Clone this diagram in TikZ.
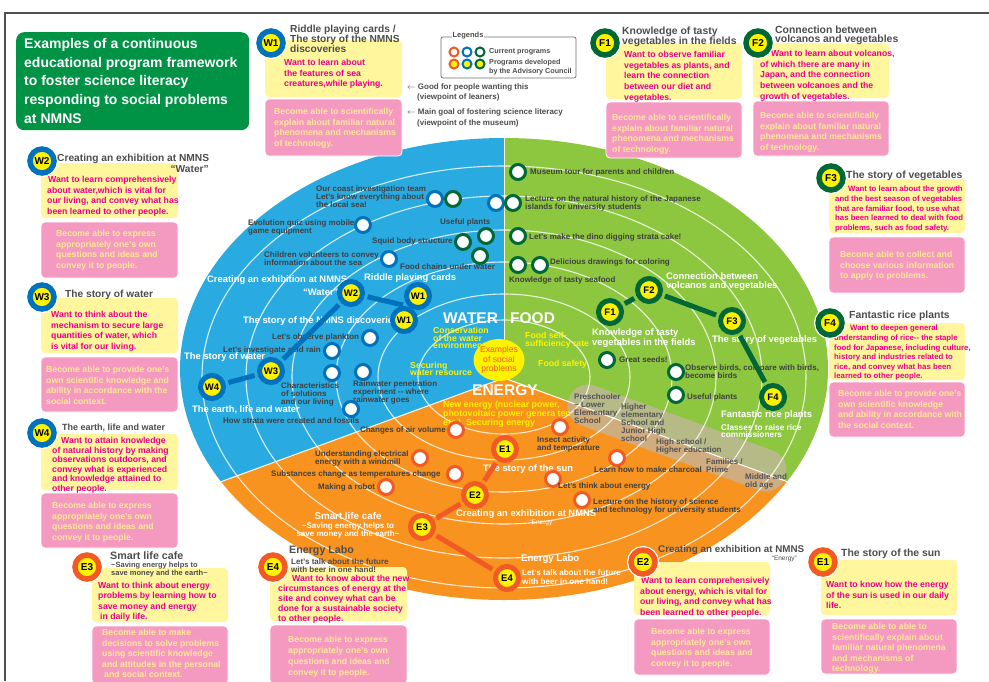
\documentclass[tikz,border=0pt]{standalone}
\usepackage{fontspec}
\usetikzlibrary{shapes.geometric}
\setmainfont{Liberation Sans}
\definecolor{blueR}{RGB}{41,171,226}
\definecolor{greenR}{RGB}{141,198,63}
\definecolor{orangeR}{RGB}{247,147,30}
\definecolor{ringB}{RGB}{0,113,188}
\definecolor{ringG}{RGB}{0,104,55}
\definecolor{ringO}{RGB}{241,90,36}
\definecolor{badgeY}{RGB}{255,242,0}
\definecolor{boxY}{RGB}{255,246,157}
\definecolor{boxP}{RGB}{244,154,193}
\definecolor{txtM}{RGB}{236,0,140}
\definecolor{txtP}{RGB}{255,233,150}
\definecolor{ttlG}{RGB}{77,77,77}
\definecolor{labG}{RGB}{64,64,66}
\definecolor{labY}{RGB}{255,242,0}
\definecolor{titleG}{RGB}{0,146,69}
\definecolor{bandC}{RGB}{196,182,160}
\definecolor{frameC}{RGB}{80,80,80}
\tikzset{
  ybox/.style={fill=boxY, rounded corners=4pt},
  pbox/.style={fill=boxP, draw=white, line width=0.8pt, rounded corners=4pt},
  ytxt/.style={anchor=north west, inner sep=0pt, align=left, text=txtM, font=\fontsize{8.7}{10.7}\selectfont\bfseries},
  ptxt/.style={anchor=north west, inner sep=0pt, align=left, text=txtP, font=\fontsize{8.7}{10.7}\selectfont\bfseries},
  ttl/.style={anchor=north west, inner sep=0pt, align=left, text=ttlG, font=\fontsize{10.2}{9.6}\selectfont\bfseries},
  lab/.style={inner sep=0pt, align=left, text=labG, font=\fontsize{8}{8.2}\selectfont\bfseries},
  wlab/.style={inner sep=0pt, align=left, text=white, font=\fontsize{9.4}{8.6}\selectfont\bfseries},
  ylab/.style={inner sep=0pt, align=left, text=labY, font=\fontsize{8.7}{7.6}\selectfont\bfseries},
  big/.style={inner sep=0pt, text=white, font=\fontsize{15.5}{16}\selectfont\bfseries},
  prog/.style={circle, draw=#1, line width=3pt, fill=white, minimum size=15pt, inner sep=0pt},
  lcirc/.style={circle, draw=#1, line width=2pt, fill=white, minimum size=9pt, inner sep=0pt},
  badge/.style={circle, draw=#1, line width=5pt, fill=badgeY, minimum size=23pt, inner sep=0pt, font=\fontsize{9.5}{10}\selectfont\bfseries},
  bbadge/.style={circle, draw=#1, line width=5.5pt, fill=badgeY, minimum size=24pt, inner sep=0pt, font=\fontsize{10}{10}\selectfont\bfseries, preaction={draw=white, line width=8pt}},
  conn/.style={draw=#1, line width=5pt, shorten <=3pt, shorten >=3pt},
  ringl/.style={draw=white, line width=1.1pt, opacity=0.8},
}
\begin{document}
\begin{tikzpicture}[x=1pt,y=-1pt]
\useasboundingbox (0,0) rectangle (989,681);
\fill[white] (0,0) rectangle (989,681);
\draw[frameC, line width=2pt] (5,681) -- (5,13) -- (989,13);

% ===== big ellipse =====
\begin{scope}
\clip (504,369) ellipse [x radius=324pt, y radius=231pt];
\fill[blueR] (170,120) -- (504,120) -- (504,378) -- (170,500.4) -- cycle;
\fill[greenR] (504,120) -- (840,120) -- (840,501) -- (504,378) -- cycle;
\fill[orangeR] (170,500.4) -- (504,378) -- (840,501) -- (840,620) -- (170,620) -- cycle;
\end{scope}
\fill[bandC, opacity=0.75, rounded corners=20pt, rotate around={-20:(677,438)}] (562,417) rectangle (792,459);
\begin{scope}
\clip (504,369) ellipse [x radius=324pt, y radius=231pt];
\foreach \ra/\rb in {86/57,126/83,168/115,212/147,258/181,302/211}
  \draw[ringl] (504,377) ellipse [x radius=\ra pt, y radius=\rb pt];
\draw[white, line width=1pt] (504,120) -- (504,378);
\draw[white, line width=1pt] (170,500.4) -- (504,378) -- (840,501);
\end{scope}

% ===== title =====
\node[fill=titleG, rounded corners=8pt, minimum width=233pt, minimum height=98pt, anchor=north west, inner sep=0pt] (titlebox) at (16,32) {};
\node[anchor=north west, inner sep=0pt, align=left, text=white, font=\fontsize{14}{18.8}\selectfont\bfseries] (titletext) at (24,38) {Examples of a continuous\\educational program framework\\to foster science literacy\\responding to social problems\\at NMNS};

% ===== legend =====
\draw[ttlG!80, line width=0.8pt, rounded corners=2pt] (441,37) rectangle (576,78);
\node[fill=white, inner sep=1pt, text=ttlG, font=\fontsize{7.5}{8}\selectfont\bfseries] (legt) at (468,36) {Legends};
\node[lcirc=ringO] (lg1) at (454,52) {};
\node[lcirc=ringB] (lg2) at (467,52) {};
\node[lcirc=ringG] (lg3) at (480,52) {};
\node[lcirc=ringO, fill=badgeY] (lg4) at (454,64) {};
\node[lcirc=ringB, fill=badgeY] (lg5) at (467,64) {};
\node[lcirc=ringG, fill=badgeY] (lg6) at (480,64) {};
\node[lab, anchor=west, text=ttlG, font=\fontsize{7.2}{8.8}\selectfont\bfseries] (lgt1) at (489,52) {Current programs};
\node[lab, anchor=north west, text=ttlG, font=\fontsize{7.2}{8.8}\selectfont\bfseries] (lgt2) at (489,59.5) {Programs developed\\by the Advisory Council};
\node[lab, anchor=west, text=ttlG] (ar1) at (407,87) {$\leftarrow$ Good for people wanting this};
\node[lab, anchor=west, text=ttlG] (ar2) at (417,97.5) {(viewpoint of leaners)};
\node[lab, anchor=west, text=ttlG] (ar3) at (407,112) {$\leftarrow$ Main goal of fostering science literacy};
\node[lab, anchor=west, text=ttlG] (ar4) at (417,123) {(viewpoint of the museum)};

% ===== program boxes =====
% W1
\path[ybox] (265,40) rectangle (402,97);
\path[pbox] (265,99) rectangle (402,156);
\node[ytxt] (w1y) at (284,59) {Want to learn about\\the features of sea\\creatures,while playing.};
\node[ptxt] (w1p) at (274,108) {Become able to scientifically\\explain about familiar natural\\phenomena and mechanisms\\of technology.};
\node[bbadge=ringB] (bw1) at (271,43) {W1};
\node[ttl] (tw1) at (290,25.3) {Riddle playing cards /\\The story of the NMNS\\discoveries};
% F1
\path[ybox] (606,43) rectangle (742,99);
\path[pbox] (606,102) rectangle (742,158);
\node[ytxt] (f1y) at (624,51) {Want to observe familiar\\vegetables as plants, and\\learn the connection\\between our diet and\\vegetables.};
\node[ptxt] (f1p) at (612,114) {Become able to scientifically\\explain about familiar natural\\phenomena and mechanisms\\of technology.};
\node[bbadge=ringG] (bf1) at (605,43) {F1};
\node[ttl, font=\fontsize{10.4}{10}\selectfont\bfseries] (tf1) at (622,27) {Knowledge of tasty\\vegetables in the fields};
% F2
\path[ybox] (753,43) rectangle (889,98);
\path[pbox] (753,101) rectangle (889,156);
\node[ytxt] (f2y) at (760,50) {\hspace*{11pt}Want to learn about volcanos,\\of which there are many in\\Japan, and the connection\\between volcanoes and the\\growth of vegetables.};
\node[ptxt] (f2p) at (760,112) {Become able to scientifically\\explain about familiar natural\\phenomena and mechanisms\\of technology.};
\node[bbadge=ringG] (bf2) at (758,43) {F2};
\node[ttl, font=\fontsize{10.4}{9.2}\selectfont\bfseries] (tf2) at (775,26) {Connection between\\volcanos and vegetables};
% F3
\path[ybox] (829,179) rectangle (965,233);
\path[pbox] (829,237) rectangle (965,293);
\node[ytxt, font=\fontsize{7.8}{9.7}\selectfont\bfseries] (f3y) at (835,186) {\hspace*{13pt}Want to learn about the growth\\and the best season of vegetables\\that are familiar food, to use what\\has been learned to deal with food\\problems, such as food safety.};
\node[ptxt] (f3p) at (840,251) {Become able to collect and\\choose various information\\to apply to problems.};
\node[bbadge=ringG] (bf3) at (831,178) {F3};
\node[ttl, font=\fontsize{10.4}{10}\selectfont\bfseries] (tf3) at (846,170.5) {The story of vegetables};
% F4
\path[ybox] (829,323) rectangle (965,380);
\path[pbox] (829,382) rectangle (965,437);
\node[ytxt, font=\fontsize{7.8}{9.6}\selectfont\bfseries] (f4y) at (834,325) {\hspace*{16pt}Want to deepen general\\understanding of rice{-}{-} the staple\\food for Japanese, including culture,\\history and industries related to\\rice, and convey what has been\\learned to other people.};
\node[ptxt] (f4p) at (838,390) {Become able to provide one's\\own scientific knowledge\\and ability in accordance with\\the social context.};
\node[bbadge=ringG] (bf4) at (830,323) {F4};
\node[ttl, font=\fontsize{10.4}{10}\selectfont\bfseries] (tf4) at (849,310.5) {Fantastic rice plants};
% W2
\path[ybox] (41,163) rectangle (178,218);
\path[pbox] (41,222) rectangle (178,278);
\node[ytxt] (w2y) at (47,176) {\hspace*{1pt}Want to learn comprehensively\\about water,which is vital for\\our living, and convey what has\\been learned to other people.};
\node[ptxt] (w2p) at (56,230) {Become able to express\\appropriately one's own\\questions and ideas and\\convey it to people.};
\node[bbadge=ringB] (bw2) at (42,161) {W2};
\node[ttl] (tw2) at (57,153.5) {Creating an exhibition at NMNS};
\node[ttl, anchor=north east] (tw2b) at (209,165.5) {“Water”};
% W3
\path[ybox] (41,298) rectangle (178,353);
\path[pbox] (41,357) rectangle (178,412);
\node[ytxt] (w3y) at (51,311) {Want to think about the\\mechanism to secure large\\quantities of water, which\\is vital for our living.};
\node[ptxt] (w3p) at (46,366) {Become able to provide one's\\own scientific knowledge and\\ability in accordance with the\\social context.};
\node[bbadge=ringB] (bw3) at (42,297) {W3};
\node[ttl] (tw3) at (65,289.5) {The story of water};
% W4
\path[ybox] (41,434) rectangle (178,490);
\path[pbox] (41,493) rectangle (178,548);
\node[ytxt, font=\fontsize{8.7}{9.6}\selectfont\bfseries] (w4y) at (52,437) {\hspace*{9pt}Want to attain knowledge\\of natural history by making\\observations outdoors, and\\convey what is experienced\\and knowledge attained to\\other people.};
\node[ptxt, font=\fontsize{8.7}{10.6}\selectfont\bfseries] (w4p) at (52,502) {Become able to express\\appropriately one's own\\questions and ideas and\\convey it to people.};
\node[bbadge=ringB] (bw4) at (42,433) {W4};
\node[ttl, font=\fontsize{9}{9}\selectfont\bfseries] (tw4) at (62,423.7) {The earth, life and water};
% E3
\path[ybox] (92,568) rectangle (228,622);
\path[pbox] (92,626) rectangle (228,684);
\node[ytxt, font=\fontsize{8.7}{10.4}\selectfont\bfseries] (e3y) at (98,582) {Want to think about energy\\problems by learning how to\\save money and energy\\\hspace*{2pt}in daily life.};
\node[ptxt, font=\fontsize{8.7}{10.5}\selectfont\bfseries] (e3p) at (102,629) {Become able to make\\decisions to solve problems\\using scientific knowledge\\and attitudes in the personal\\\hspace*{2pt}and social context.};
\node[bbadge=ringO] (be3) at (87,567) {E3};
\node[ttl, font=\fontsize{10.7}{10}\selectfont\bfseries] (te3) at (110,552) {Smart life cafe};
\node[ttl, font=\fontsize{7.5}{8}\selectfont\bfseries] (te3b) at (111,562.3) {\textasciitilde{}Saving energy helps to\\save money and the earth\textasciitilde};
% E4
\path[ybox] (270,567) rectangle (407,621);
\path[pbox] (270,625) rectangle (407,684);
\node[ytxt, font=\fontsize{8.7}{10}\selectfont\bfseries] (e4y) at (278,575) {\hspace*{14pt}Want to know about the new\\circumstances of energy at the\\site and convey what can be\\done for a sustainable society\\to other people.};
\node[ptxt, font=\fontsize{8.7}{11}\selectfont\bfseries] (e4p) at (288,636) {Become able to express\\appropriately one's own\\questions and ideas and\\convey it to people.};
\node[bbadge=ringO] (be4) at (273,567) {E4};
\node[ttl, font=\fontsize{10.7}{10}\selectfont\bfseries] (te4) at (289,546) {Energy Labo};
\node[ttl, font=\fontsize{8}{8.6}\selectfont\bfseries] (te4b) at (291,558) {Let's talk about the future\\with beer in one hand!};
% E2
\path[ybox] (634,562) rectangle (770,615);
\path[pbox] (634,619) rectangle (770,675);
\node[ytxt] (e2y) at (640,577) {\hspace*{1pt}Want to learn comprehensively\\about energy, which is vital for\\our living, and convey what has\\been learned to other people.};
\node[ptxt] (e2p) at (651,628) {Become able to express\\appropriately one's own\\questions and ideas and\\convey it to people.};
\node[bbadge=ringO] (be2) at (643,562) {E2};
\node[ttl, font=\fontsize{9.8}{10}\selectfont\bfseries] (te2) at (658,545.5) {Creating an exhibition at NMNS};
\node[inner sep=0pt, text=ttlG, font=\fontsize{6.5}{7}\selectfont, anchor=east] (te2b) at (797,558.5) {“Energy”};
% E1
\path[ybox] (821,560) rectangle (957,615);
\path[pbox] (821,619) rectangle (957,674);
\node[ytxt] (e1y) at (826,581) {Want to know how the energy\\of the sun is used in our daily\\life.};
\node[ptxt, font=\fontsize{8.7}{10.5}\selectfont\bfseries] (e1p) at (832,623) {Become able to able to\\scientifically explain about\\familiar natural phenomena\\and mechanisms of\\technology.};
\node[bbadge=ringO] (be1) at (823,562) {E1};
\node[ttl, font=\fontsize{10.4}{10}\selectfont\bfseries] (te1) at (841,549) {The story of the sun};

% ===== WATER sector =====
\node[lab, anchor=north west] (l1) at (316,185.2) {Our coast investigation team\\Let's know everything about\\the local sea!};
\node[prog=ringB] (c1) at (435,199) {};
\node[prog=ringG] (c2) at (453,199) {};
\node[prog=ringB] (c3) at (496,203) {};
\node[prog=ringG] (c4) at (513,203) {};
\node[lab, anchor=north west] (l3) at (248,219.2) {Evolution quiz using mobile\\game equipment};
\node[prog=ringB] (c5) at (363,225) {};
\node[lab, anchor=west] (l4) at (440,222) {Useful plants};
\node[prog=ringG] (c6) at (486,236) {};
\node[lab, anchor=west] (l5) at (372,241) {Squid body structure};
\node[prog=ringG] (c7) at (463,242) {};
\node[lab, anchor=west] (l6) at (400,267) {Food chains under water};
\node[prog=ringG] (c8) at (480,256) {};
\node[lab, anchor=north west] (l7) at (264,251.2) {Children volunteers to convey\\information about the sea};
\node[prog=ringB] (c9) at (389,259) {};
\node[wlab, anchor=west] (l8) at (207,280) {Creating an exhibition at NMNS};
\node[wlab, anchor=west] (l8b) at (303,292) {“Water”};
\node[wlab, anchor=west] (l10) at (364,278) {Riddle playing cards};
\node[wlab, anchor=west] (l12) at (243,321) {The story of the NMNS discoveries};
\node[lab, anchor=west] (l13) at (272,337) {Let's observe plankton};
\node[prog=ringB] (c10) at (370,338) {};
\node[lab, anchor=west] (l14) at (223,350) {Let's investigate acid rain};
\node[prog=ringB] (c11) at (332,351) {};
\node[wlab, anchor=west] (l15) at (184,357) {The story of water};
\node[wlab, anchor=west] (l17) at (192,410) {The earth, life and water};
\node[prog=ringB] (c12) at (332,373) {};
\node[lab, anchor=north west] (l18) at (281,382.2) {Characteristics\\of solutions\\and our living};
\node[prog=ringB] (c13) at (363,372) {};
\node[lab, anchor=north west] (l19) at (353,380.2) {Rainwater penetration\\experiment {-}{-} where\\rainwater goes};
\node[prog=ringB] (c14) at (351,409) {};
\node[lab, anchor=west] (l20) at (223,421) {How strata were created and fossils};
\node[big, anchor=west] (water) at (443,318) {WATER};
\node[ylab, anchor=north west] (l22) at (433,327) {Conservation\\of the water\\environment};
\node[ylab, anchor=north west] (l23) at (410,361.5) {Securing\\water resource};
\coordinate (w1join) at (403,305);
\node[badge=ringB] (W4) at (212,387) {W4};
\node[badge=ringB] (W3) at (271,371) {W3};
\node[badge=ringB] (W2) at (351,293) {W2};
\draw[conn=ringB] (W4) -- (W3);
\draw[conn=ringB] (W3) -- (W2);
\draw[conn=ringB, shorten >=0pt] (W2) -- (w1join);
\node[badge=ringB] (W1b) at (404,320) {W1};
\node[badge=ringB] (W1a) at (418,296) {W1};

% ===== FOOD sector =====
\node[prog=ringG] (c20) at (518,172) {};
\node[lab, anchor=west] (l24) at (530,172) {Museum tour for parents and children};
\node[lab, anchor=north west] (l25) at (525,195.2) {Lecture on the natural history of the Japanese\\islands for university students};
\node[prog=ringG] (c21) at (518,236) {};
\node[lab, anchor=west] (l26) at (529,237) {Let's make the dino digging strata cake!};
\node[prog=ringG] (c22) at (518,265) {};
\node[prog=ringG] (c23) at (540,265) {};
\node[lab, anchor=west] (l27) at (550,262) {Delicious drawings for coloring};
\node[lab, anchor=west] (l28) at (509,280) {Knowledge of tasty seafood};
\node[wlab, anchor=north west] (l30) at (666,272.5) {Connection between\\volcanos and vegetables};
\node[wlab, anchor=north west] (l31) at (592,328.5) {Knowledge of tasty\\vegetables in the fields};
\node[wlab, anchor=west] (l32) at (712,340) {The story of vegetables};
\node[big, anchor=west] (food) at (510,318) {FOOD};
\node[ylab, anchor=north west] (l34) at (525,332) {Food self-\\sufficiency rate};
\node[ylab, anchor=west] (l35) at (538,364) {Food safety};
\node[prog=ringG] (c24) at (607,360) {};
\node[lab, anchor=west] (l36) at (619,360) {Great seeds!};
\node[prog=ringG] (c25) at (676,372) {};
\node[lab, anchor=north west] (l37) at (685,364.2) {Observe birds, compare with birds,\\become birds};
\node[prog=ringG] (c26) at (676,395) {};
\node[lab, anchor=west] (l38) at (687,397) {Useful plants};
\node[wlab, anchor=west] (l39) at (721,415) {Fantastic rice plants};
\node[wlab, anchor=north west, font=\fontsize{8.3}{7.6}\selectfont\bfseries] (l39b) at (721,424) {Classes to raise rice\\commissioners};
\node[badge=ringG] (F1) at (610,312) {F1};
\node[badge=ringG] (F2) at (649,290) {F2};
\node[badge=ringG] (F3) at (732,321) {F3};
\node[badge=ringG] (F4) at (773,397) {F4};
\draw[conn=ringG] (F1) -- (F2);
\draw[conn=ringG] (F2) -- (F3);
\draw[conn=ringG] (F3) -- (F4);

% ===== ENERGY sector =====
\node[big, anchor=west] (energy) at (472,390) {ENERGY};
\node[ylab, anchor=north west, font=\fontsize{8.8}{8}\selectfont\bfseries] (l41) at (443,400.5) {New energy (nuclear power,\\photovoltaic power genera ten\\etc.), Securing energy};
\node[prog=ringO] (c30) at (456,430) {};
\node[lab, anchor=east] (l42) at (446,430) {Changes of air volume};
\node[wlab, anchor=west] (l43) at (483,469) {The story of the sun};
\node[prog=ringO] (c31) at (420,458) {};
\node[lab, anchor=north west] (l44) at (315,450.2) {Understanding electrical\\energy with a windmill};
\node[prog=ringO] (c32) at (455,474) {};
\node[lab, anchor=west] (l45) at (271,474) {Substances change as temperatures change};
\node[prog=ringO] (c33) at (386,487) {};
\node[lab, anchor=west] (l46) at (318,487) {Making a robot};
\node[wlab, anchor=west] (l47) at (456,514) {Creating an exhibition at NMNS};
\node[inner sep=0pt, text=white, font=\fontsize{6.5}{7}\selectfont] (l47b) at (542,523) {“Energy”};
\node[wlab, anchor=north, font=\fontsize{9.8}{9}\selectfont\bfseries] (l48) at (348,512.5) {Smart life cafe};
\node[wlab, anchor=north, align=center, font=\fontsize{8}{8.8}\selectfont\bfseries] (l48b) at (348,522) {\textasciitilde{}Saving energy helps to\\save money and the earth\textasciitilde};
\node[wlab, anchor=west, font=\fontsize{9.6}{9}\selectfont\bfseries] (l49) at (521,559) {Energy Labo};
\node[wlab, anchor=north west, font=\fontsize{8.1}{9.6}\selectfont\bfseries] (l49b) at (522,569) {Let's talk about the future\\with beer in one hand!};
\node[prog=ringO] (c34) at (560,427) {};
\node[lab, anchor=north west] (l50) at (537,436.2) {Insect activity\\and temperature};
\node[prog=ringO] (c35) at (617,458) {};
\node[lab, anchor=west] (l51) at (594,470) {Learn how to make charcoal};
\node[prog=ringO] (c36) at (553,479) {};
\node[lab, anchor=west] (l52) at (558,486) {Let's think about energy};
\node[prog=ringO] (c37) at (582,500) {};
\node[lab, anchor=north west] (l53) at (593,498.2) {Lecture on the history of science\\and technology for university students};
\node[lab, anchor=north west, text=labG!90, font=\fontsize{8}{8}\selectfont\bfseries] (b1) at (574,393.2) {Preschooler\\\textasciitilde{} Lower\\Elementary\\School};
\node[lab, anchor=north west, text=labG!90, font=\fontsize{8}{8}\selectfont\bfseries] (b2) at (621,403.2) {Higher\\elementary\\School and\\Junior High\\school};
\node[lab, anchor=north west, text=labG!90, font=\fontsize{8}{8}\selectfont\bfseries] (b3) at (656,438.2) {High school /\\Higher education};
\node[lab, anchor=north west, text=labG!90, font=\fontsize{8}{8}\selectfont\bfseries] (b4) at (706,458.2) {Families /\\Prime};
\node[lab, anchor=north west, text=labG!90, font=\fontsize{8}{8}\selectfont\bfseries] (b5) at (745,473.2) {Middle and\\old age};
\node[badge=ringO] (E1) at (505,449) {E1};
\node[badge=ringO] (E2) at (475,495) {E2};
\node[badge=ringO] (E3) at (422,527) {E3};
\node[badge=ringO] (E4) at (507,578) {E4};
\draw[conn=ringO] (E1) -- (E2);
\draw[conn=ringO] (E2) -- (E3);
\draw[conn=ringO] (E3) -- (E4);

% ===== centre =====
\node[ellipse, fill=badgeY, minimum width=51pt, minimum height=42pt, inner sep=0pt] (centre) at (499,360) {};
\node[inner sep=0pt, align=center, text=ringO, font=\fontsize{8.6}{9.5}\selectfont] (centret) at (499,360) {Examples\\of social\\problems};
\end{tikzpicture}
\end{document}
